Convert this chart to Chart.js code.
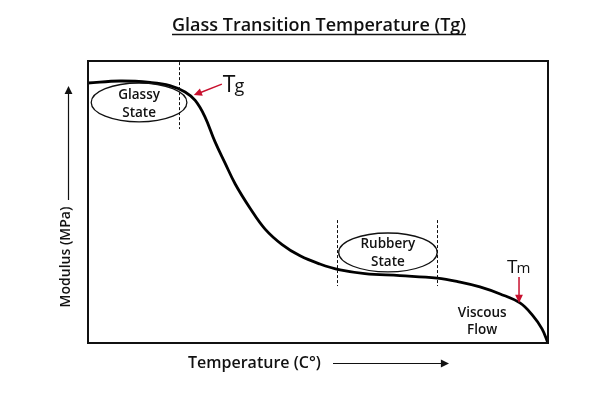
<!DOCTYPE html>
<html>
<head>
<meta charset="utf-8">
<script src="https://cdn.jsdelivr.net/npm/chart.js@4.4.1/dist/chart.umd.min.js"></script>
<style>
  html, body { margin: 0; padding: 0; background: #fff; }
  #canvas { display: block; }
</style>
</head>
<body>
<canvas id="canvas" width="612" height="395"></canvas>
<script>
const canvas = document.getElementById('canvas');
const ctx = canvas.getContext('2d');

// modulus curve (temperature on x, modulus on y, both 0..100 arbitrary units)
const temperature = [0, 7, 13.5, 17.8, 21.1, 23.3, 25.4, 27.6, 29.8, 32, 35.2, 38.5, 42.2, 46.1, 50.4, 54.8, 60.2, 67.8, 75.9, 80.9, 85.2, 89.6, 93.9, 96.7, 98.7, 100];
const modulus = [92.2, 92.9, 92.4, 91.3, 89.0, 86.0, 80.3, 71.4, 63.8, 56.4, 47.9, 40.4, 34.9, 30.9, 28.0, 25.9, 24.6, 23.9, 23.0, 21.6, 19.9, 17.4, 14.2, 9.7, 5.0, 0];

// dashed region markers [x, yTop, yBottom]
const markers = [
  [19.8, 99.6, 75.9],
  [54.1, 43.6, 20.2],
  [75.9, 43.6, 20.2],
];

// ellipses [cx, cy, rx, ry] and their labels
const regions = [
  [11.1, 85.3, 10.4, 6.9],
  [65.2, 32.1, 10.7, 6.9],
];
const regionLabels = [
  ['Glassy', 11.1, 87.9], ['State', 11.1, 81.6],
  ['Rubbery', 65.2, 35.1], ['State', 65.2, 28.7],
  ['Viscous', 85.7, 10.6], ['Flow', 85.7, 4.6],
];

// temperature markers: [main, sub, x, y] and arrows [x1, y1, x2, y2]
const tempLabels = [
  ['T', 'g', 29.3, 89.0],
  ['T', 'm', 91.1, 24.8],
];
const tempArrows = [
  [29.1, 91.8, 23.0, 87.9],
  [93.7, 23.4, 93.7, 14.2],
];

const chartTitle = 'Glass Transition Temperature (Tg)';
const xTitle = 'Temperature (C°)';
const yTitle = 'Modulus (MPa)';

const font = '"Open Sans", "Noto Sans", sans-serif';
const red = '#c8102e';

const drawArrowHead = (c, x1, y1, x2, y2, size) => {
  const a = Math.atan2(y2 - y1, x2 - x1);
  c.beginPath();
  c.moveTo(x2, y2);
  c.lineTo(x2 - size * Math.cos(a - 0.45), y2 - size * Math.sin(a - 0.45));
  c.lineTo(x2 - size * Math.cos(a + 0.45), y2 - size * Math.sin(a + 0.45));
  c.closePath();
  c.fill();
};

const decorations = {
  id: 'decorations',
  afterDatasetsDraw(chart) {
    const c = chart.ctx;
    const area = chart.chartArea;
    const xs = chart.scales.x;
    const ys = chart.scales.y;
    c.save();

    // frame
    c.strokeStyle = '#111';
    c.lineWidth = 2;
    c.strokeRect(area.left, area.top, area.right - area.left, area.bottom - area.top);

    // dashed markers
    c.lineWidth = 1;
    c.setLineDash([3, 2]);
    markers.forEach(([x, y1, y2]) => {
      const px = Math.round(xs.getPixelForValue(x)) + 0.5;
      c.beginPath();
      c.moveTo(px, ys.getPixelForValue(y1));
      c.lineTo(px, ys.getPixelForValue(y2));
      c.stroke();
    });
    c.setLineDash([]);

    // ellipses
    c.lineWidth = 1.3;
    regions.forEach(([cx, cy, rx, ry]) => {
      const px = xs.getPixelForValue(cx);
      const py = ys.getPixelForValue(cy);
      const prx = xs.getPixelForValue(cx + rx) - px;
      const pry = py - ys.getPixelForValue(cy + ry);
      c.beginPath();
      c.ellipse(px, py, prx, pry, 0, 0, Math.PI * 2);
      c.stroke();
    });

    // region labels
    c.fillStyle = '#111';
    c.font = '600 13.5px ' + font;
    c.textAlign = 'center';
    c.textBaseline = 'middle';
    regionLabels.forEach(([t, x, y]) => {
      c.fillText(t, xs.getPixelForValue(x), ys.getPixelForValue(y));
    });

    // Tg / Tm
    c.textAlign = 'left';
    c.textBaseline = 'alphabetic';
    tempLabels.forEach(([main, sub, x, y], i) => {
      const px = xs.getPixelForValue(x);
      const py = ys.getPixelForValue(y);
      c.font = (i == 0 ? '23px ' : '19px ') + font;
      c.fillText(main, px, py);
      const w = c.measureText(main).width;
      c.font = (i == 0 ? '18px ' : '15px ') + font;
      c.fillText(sub, px + w - 1, py);
    });

    // red arrows
    c.strokeStyle = red;
    c.fillStyle = red;
    c.lineWidth = 1.5;
    tempArrows.forEach(([x1, y1, x2, y2]) => {
      const p1 = [xs.getPixelForValue(x1), ys.getPixelForValue(y1)];
      const p2 = [xs.getPixelForValue(x2), ys.getPixelForValue(y2)];
      const a = Math.atan2(p2[1] - p1[1], p2[0] - p1[0]);
      c.beginPath();
      c.moveTo(p1[0], p1[1]);
      c.lineTo(p2[0] - 6 * Math.cos(a), p2[1] - 6 * Math.sin(a));
      c.stroke();
      drawArrowHead(c, p1[0], p1[1], p2[0], p2[1], 9);
    });

    // title with underline
    c.fillStyle = '#111';
    c.strokeStyle = '#111';
    c.font = '600 18px ' + font;
    c.textAlign = 'center';
    c.textBaseline = 'alphabetic';
    const tx = 319;
    c.fillText(chartTitle, tx, 31);
    const tw = c.measureText(chartTitle).width;
    c.lineWidth = 1.5;
    c.beginPath();
    c.moveTo(tx - tw / 2, 34.5);
    c.lineTo(tx + tw / 2, 34.5);
    c.stroke();

    // axis titles with arrows
    c.font = '600 16px ' + font;
    c.textBaseline = 'middle';
    c.textAlign = 'left';
    c.fillText(xTitle, 188, 363);
    c.lineWidth = 1.2;
    c.beginPath();
    c.moveTo(333, 363.5);
    c.lineTo(442, 363.5);
    c.stroke();
    drawArrowHead(c, 333, 363.5, 449, 363.5, 9);

    c.save();
    c.font = '600 14px ' + font;
    c.translate(66, 257);
    c.rotate(-Math.PI / 2);
    c.textAlign = 'center';
    c.fillText(yTitle, 0, 0);
    c.restore();
    c.beginPath();
    c.moveTo(68.5, 200);
    c.lineTo(68.5, 94);
    c.stroke();
    drawArrowHead(c, 68.5, 200, 68.5, 86, 9);

    c.restore();
  },
};

const myChart = new Chart(ctx, {
  type: 'scatter',
  data: {
    datasets: [
      {
        label: 'Modulus',
        data: temperature.map((t, i) => ({ x: t, y: modulus[i] })),
        showLine: true,
        borderColor: '#000',
        borderWidth: 2.8,
        pointRadius: 0,
        tension: 0.4,
      },
    ],
  },
  options: {
    responsive: false,
    animation: false,
    layout: { padding: { left: 88, top: 61, right: 64, bottom: 52 } },
    plugins: {
      legend: { display: false },
      tooltip: { enabled: false },
    },
    scales: {
      x: { type: 'linear', min: 0, max: 100, display: false },
      y: { type: 'linear', min: 0, max: 100, display: false },
    },
  },
  plugins: [decorations],
});
</script>
</body>
</html>
